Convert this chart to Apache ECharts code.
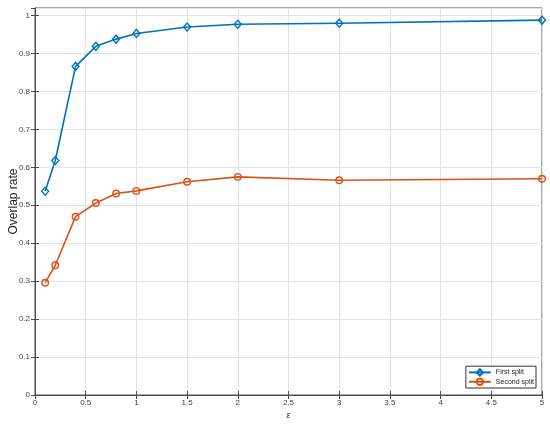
<!DOCTYPE html>
<html><head><meta charset="utf-8">
<script src="https://cdn.jsdelivr.net/npm/echarts@6/dist/echarts.min.js"></script>
<style>html,body{margin:0;padding:0;background:#fff}#c{width:550px;height:424px}</style>
</head><body><div id="c"></div>
<script>
const epsilon = [0.1, 0.2, 0.4, 0.6, 0.8, 1, 1.5, 2, 3, 5];
const firstSplit = [0.537, 0.618, 0.866, 0.919, 0.938, 0.953, 0.970, 0.977, 0.980, 0.988];
const secondSplit = [0.296, 0.342, 0.470, 0.506, 0.531, 0.538, 0.562, 0.575, 0.566, 0.570];
const xTicks = [0, 0.5, 1, 1.5, 2, 2.5, 3, 3.5, 4, 4.5, 5];
const yTicks = [0, 0.1, 0.2, 0.3, 0.4, 0.5, 0.6, 0.7, 0.8, 0.9, 1];

const chart = echarts.init(document.getElementById('c'));
const axisCol = '#4d4d4d';
const fontFam = 'Helvetica, Arial, "Liberation Sans", sans-serif';
function fmt(v, ticks){ return ticks.some(t => Math.abs(t - v) < 1e-9) ? String(+v.toFixed(2)) : ''; }
chart.setOption({
  animation: false,
  grid: {left: 35, top: 8, right: 8, bottom: 29, show: true, borderColor: axisCol, borderWidth: 1,
         containLabel: false, outerBoundsMode: 'none'},
  legend: {
    right: 14, bottom: 36, orient: 'vertical', itemGap: 1, itemWidth: 22, itemHeight: 8,
    padding: [2, 2, 2, 2], borderColor: '#333', borderWidth: 1, backgroundColor: '#fff',
    textStyle: {fontSize: 7, color: '#222', fontFamily: fontFam},
    data: ['First split', 'Second split']
  },
  xAxis: [{
    type: 'value', min: 0, max: 5, interval: 0.5,
    name: 'ε', nameLocation: 'middle', nameGap: 16, nameMoveOverlap: false,
    nameTextStyle: {fontSize: 9, fontStyle: 'italic', color: '#333', fontFamily: fontFam},
    axisLine: {show: true, lineStyle: {color: axisCol}},
    axisTick: {show: true, inside: true, length: 4, lineStyle: {color: axisCol}},
    axisLabel: {fontSize: 8, color: '#444', margin: 4, fontFamily: fontFam, formatter: v => fmt(v, xTicks)},
    splitLine: {show: true, lineStyle: {color: '#e3e3e3', width: 1}}
  }, {
    type: 'value', min: 0, max: 5, interval: 0.5, position: 'top',
    axisLine: {show: true, lineStyle: {color: axisCol}},
    axisTick: {show: true, inside: true, length: 4, lineStyle: {color: axisCol}},
    axisLabel: {show: false}, splitLine: {show: false}
  }],
  yAxis: [{
    type: 'value', min: 0, max: 1.02, interval: 0.1,
    name: 'Overlap rate', nameLocation: 'middle', nameGap: 15, nameRotate: 90, nameMoveOverlap: false,
    nameTextStyle: {fontSize: 12, color: '#222', fontFamily: fontFam},
    axisLine: {show: true, lineStyle: {color: axisCol}},
    axisTick: {show: true, inside: true, length: 4, lineStyle: {color: axisCol}},
    axisLabel: {fontSize: 8, color: '#444', margin: 5, fontFamily: fontFam, showMaxLabel: false, formatter: v => fmt(v, yTicks)},
    splitLine: {show: true, lineStyle: {color: '#e3e3e3', width: 1}}
  }, {
    type: 'value', min: 0, max: 1.02, interval: 0.1, position: 'right',
    axisLine: {show: true, lineStyle: {color: axisCol}},
    axisTick: {show: true, inside: true, length: 4, lineStyle: {color: axisCol}},
    axisLabel: {show: false}, splitLine: {show: false}
  }],
  series: [{
    name: 'First split', type: 'line',
    data: epsilon.map((x, i) => [x, firstSplit[i]]),
    symbol: 'diamond', symbolSize: [7, 8], showAllSymbol: true,
    lineStyle: {color: '#0072BD', width: 1.6},
    itemStyle: {color: 'rgba(255,255,255,0)', borderColor: '#0072BD', borderWidth: 1.4},
    clip: false
  }, {
    name: 'Second split', type: 'line',
    data: epsilon.map((x, i) => [x, secondSplit[i]]),
    symbol: 'circle', symbolSize: 6.5, showAllSymbol: true,
    lineStyle: {color: '#D95319', width: 1.6},
    itemStyle: {color: 'rgba(255,255,255,0)', borderColor: '#D95319', borderWidth: 1.4},
    clip: false
  }]
});
</script></body></html>
